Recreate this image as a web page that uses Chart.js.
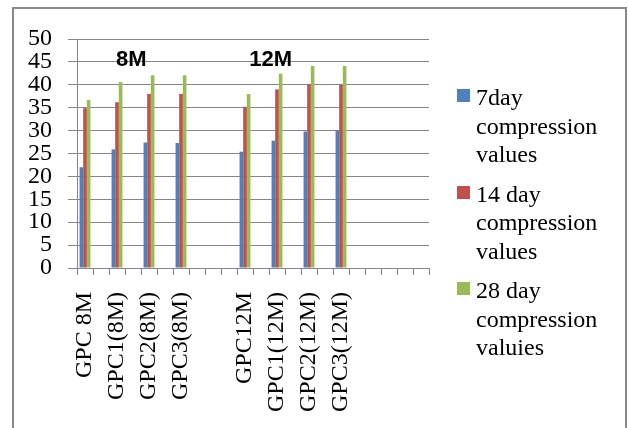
<!DOCTYPE html>
<html>
<head>
<meta charset="utf-8">
<title>Compression values</title>
<script src="https://cdn.jsdelivr.net/npm/chart.js@4.4.1/dist/chart.umd.min.js"></script>
<style>
  html, body { margin: 0; padding: 0; background: #fff; }
  body { width: 628px; height: 428px; position: relative; overflow: hidden; }
  #frame { position: absolute; left: 12px; top: 7px; width: 615px; height: 440px; border: 2px solid #8a8a8a; box-sizing: border-box; }
  #chart { position: absolute; left: 0; top: 0; }
  #legend { position: absolute; left: 457px; top: 83px; font-family: "Liberation Serif", "Times New Roman", serif; font-size: 24px; line-height: 28.5px; color: #000; }
  #legend .item { display: flex; align-items: flex-start; margin-bottom: 11px; }
  #legend .sw { width: 13px; height: 13px; margin: 6px 6px 0 0; flex: none; }
  #legend .tx { width: 135px; }
</style>
</head>
<body>
<div id="frame"></div>
<canvas id="chart" width="628" height="428"></canvas>
<div id="legend"></div>
<script>
// mix designations, with blank rows between the groups as in the sheet
var mixes = ['GPC 8M', '', 'GPC1(8M)', '', 'GPC2(8M)', '', 'GPC3(8M)', '', '', '',
             'GPC12M', '', 'GPC1(12M)', '', 'GPC2(12M)', '', 'GPC3(12M)', '', '', '', '', ''];

var day7  = [22.0, null, 25.9, null, 27.4, null, 27.3, null, null, null,
             25.4, null, 27.8, null, 29.8, null, 30.0, null, null, null, null, null];
var day14 = [34.9, null, 36.2, null, 38.0, null, 38.0, null, null, null,
             35.2, null, 39.0, null, 40.1, null, 40.0, null, null, null, null, null];
var day28 = [36.7, null, 40.6, null, 42.1, null, 42.1, null, null, null,
             38.0, null, 42.4, null, 44.1, null, 44.1, null, null, null, null, null];

var yTicks = [0, 5, 10, 15, 20, 25, 30, 35, 40, 45, 50];

var serif = '"Liberation Serif", "Times New Roman", serif';
var gridGray = '#868686';

// group captions above the bars
var groupTags = {
    id: 'groupTags',
    afterDatasetsDraw: function (chart) {
        var ctx = chart.ctx;
        var x = chart.scales.x, y = chart.scales.y;
        ctx.save();
        ctx.font = 'bold 22px "Liberation Sans", Arial, sans-serif';
        ctx.fillStyle = '#000';
        ctx.textAlign = 'center';
        ctx.textBaseline = 'middle';
        ctx.fillText('8M', x.getPixelForValue(2.9), y.getPixelForValue(45.5));
        ctx.fillText('12M', x.getPixelForValue(11.6), y.getPixelForValue(45.5));
        ctx.restore();
    }
};

var ctx = document.getElementById('chart').getContext('2d');
var chart = new Chart(ctx, {
    type: 'bar',
    data: {
        labels: mixes,
        datasets: [{
            label: '7day compression values',
            backgroundColor: '#4F81BD',
            data: day7
        }, {
            label: '14 day compression values',
            backgroundColor: '#C0504D',
            data: day14
        }, {
            label: '28 day compression valuies',
            backgroundColor: '#9BBB59',
            data: day28
        }]
    },
    options: {
        responsive: false,
        animation: false,
        layout: { padding: { top: 39, right: 199, bottom: 0, left: 0 } },
        datasets: { bar: { barPercentage: 1, categoryPercentage: 0.68 } },
        plugins: { legend: { display: false }, tooltip: { enabled: false } },
        scales: {
            x: {
                grid: { offset: true, drawOnChartArea: false, drawTicks: true, tickLength: 7, color: gridGray },
                border: { color: gridGray },
                ticks: {
                    autoSkip: false, maxRotation: 90, minRotation: 90, padding: 17,
                    color: '#000', font: { family: serif, size: 24 }
                },
                afterFit: function (s) { s.height = 160; }
            },
            y: {
                min: 0,
                max: 50,
                afterBuildTicks: function (s) { s.ticks = yTicks.map(function (v) { return { value: v }; }); },
                grid: { color: gridGray, tickLength: 9, tickColor: gridGray },
                border: { color: gridGray },
                ticks: { autoSkip: false, padding: 16, color: '#000', font: { family: serif, size: 24 } },
                afterFit: function (s) { s.width = 77; }
            }
        }
    },
    plugins: [groupTags]
});

// legend built from the datasets
var legend = document.getElementById('legend');
chart.data.datasets.forEach(function (ds) {
    var item = document.createElement('div');
    item.className = 'item';
    var sw = document.createElement('div');
    sw.className = 'sw';
    sw.style.background = ds.backgroundColor;
    var tx = document.createElement('div');
    tx.className = 'tx';
    tx.textContent = ds.label;
    item.appendChild(sw);
    item.appendChild(tx);
    legend.appendChild(item);
});
</script>
</body>
</html>
